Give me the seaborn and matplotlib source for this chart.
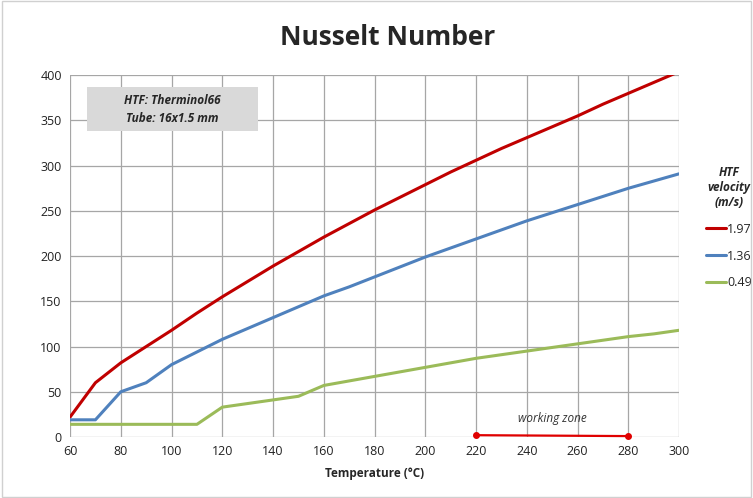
import pandas as pd
import matplotlib.pyplot as plt
import seaborn as sns

# temperatures (C) and Nusselt numbers
temps = [60, 70, 80, 90, 100, 110, 120, 130, 140, 150, 160, 170, 180,
         190, 200, 210, 220, 230, 240, 250, 260, 270, 280, 290, 300]
nu_197 = [22, 60, 82, 100, 118, 137, 155, 172, 189, 205, 221, 236, 251,
          265, 279, 293, 306, 319, 331, 343, 355, 368, 380, 392, 404]
nu_136 = [19, 19, 50, 60, 80, 94, 108, 120, 132, 144, 156, 166, 177,
          188, 199, 209, 219, 229, 239, 248, 257, 266, 275, 283, 291]
nu_049 = [14, 14, 14, 14, 14, 14, 33, 37, 41, 45, 57, 62, 67,
          72, 77, 82, 87, 91, 95, 99, 103, 107, 111, 114, 118]
velocities = ['1.97', '1.36', '0.49']
zone_x = [220, 280]
zone_y = [2, 1]

df = pd.DataFrame({'T': temps * 3,
                   'Nu': nu_197 + nu_136 + nu_049,
                   'v': [v for v in velocities for _ in temps]})

sns.set_style('white')
plt.rcParams['font.family'] = ['Open Sans', 'DejaVu Sans']

fig = plt.figure(figsize=(7.53, 4.98), dpi=100)
ax = fig.add_axes([0.093, 0.1225, 0.809, 0.7265])

pal = {'1.97': '#c00000', '1.36': '#4f81bd', '0.49': '#9bbb59'}
sns.lineplot(data=df, x='T', y='Nu', hue='v', palette=pal, hue_order=velocities,
             linewidth=2.2, ax=ax)

# working zone
ax.plot(zone_x, zone_y, color='#e00000', lw=1.6, marker='o', ms=4, clip_on=False)
ax.text(250, 17, 'working zone', style='italic', fontsize=8.5, ha='center', color='#333333')

ax.set_xlim(60, 300)
ax.set_ylim(0, 400)
ax.set_xticks(range(60, 301, 20))
ax.set_yticks(range(0, 401, 50))
ax.grid(True, color='#a6a6a6', lw=0.9)
for s in ax.spines.values():
    s.set_visible(False)
ax.tick_params(labelsize=9, colors='#222222', length=0, pad=6)
ax.set_xlabel('Temperature (°C)', fontsize=8.5, fontweight='bold', labelpad=6)
ax.set_ylabel('')

fig.text(0.515, 0.925, 'Nusselt Number', ha='center', va='center',
         fontsize=19, fontweight='bold')

# info box
ax.add_patch(plt.Rectangle((0.028, 0.845), 0.281, 0.122, transform=ax.transAxes,
                           fc='#d9d9d9', ec='none', zorder=3))
ax.text(0.168, 0.906, 'HTF: Therminol66\nTube: 16x1.5 mm', transform=ax.transAxes,
        ha='center', va='center', fontsize=8.5, fontweight='bold', style='italic',
        linespacing=1.5, zorder=4)

leg = ax.legend(title='HTF\nvelocity\n(m/s)', loc='upper left',
                bbox_to_anchor=(1.025, 0.78), frameon=False, fontsize=9,
                handlelength=1.6, handletextpad=0.1, labelspacing=1.1)
leg.get_title().set_fontweight('bold')
leg.get_title().set_fontstyle('italic')
leg.get_title().set_fontsize(8.5)
leg.get_title().set_multialignment('center')

fig.patches.append(plt.Rectangle((0.002, 0.002), 0.996, 0.996, transform=fig.transFigure,
                                 fill=False, ec='#d0d0d0', lw=1))

fig.savefig('out.png', dpi=100)
